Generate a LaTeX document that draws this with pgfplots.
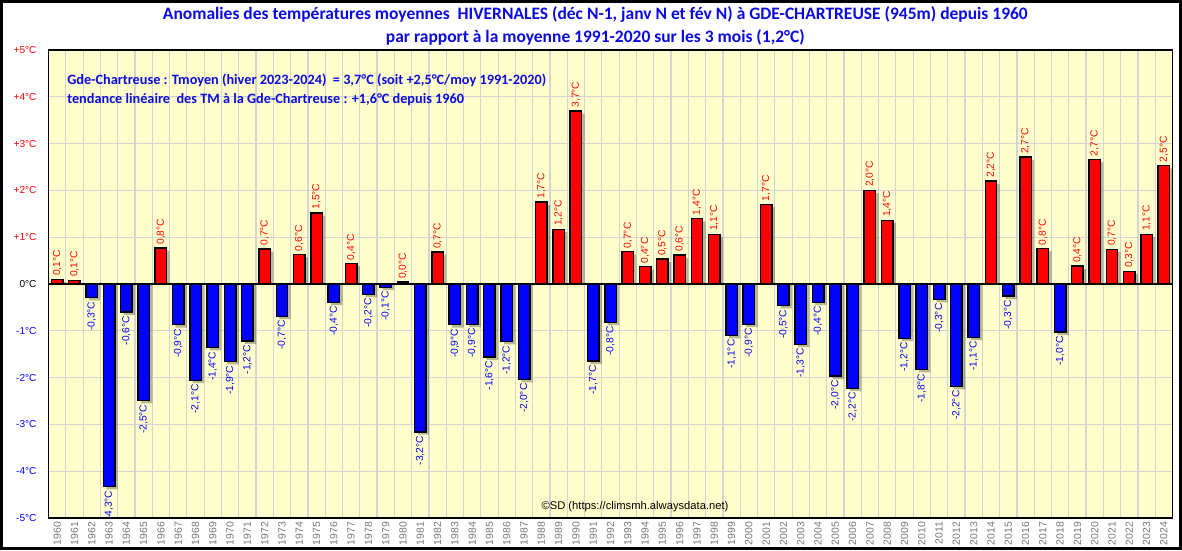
\documentclass[border=0pt]{standalone}
\usepackage{fontspec}
\setmainfont{Liberation Sans}
\newfontfamily\calib{Carlito}
\usepackage{pgfplots}
\usepackage{pgfplotstable}
\pgfplotsset{compat=1.18}
\definecolor{bgy}{RGB}{255,255,204}
\definecolor{gridc}{RGB}{212,212,212}
\definecolor{titleblue}{RGB}{10,10,225}
\definecolor{yeargray}{RGB}{120,120,120}

\pgfplotstableread{
year val lab
1960 0.10 0,1°C
1961 0.08 0,1°C
1966 0.77 0,8°C
1972 0.75 0,7°C
1974 0.63 0,6°C
1975 1.52 1,5°C
1977 0.44 0,4°C
1980 0.04 0,0°C
1982 0.68 0,7°C
1988 1.75 1,7°C
1989 1.17 1,2°C
1990 3.70 3,7°C
1993 0.69 0,7°C
1994 0.37 0,4°C
1995 0.53 0,5°C
1996 0.62 0,6°C
1997 1.40 1,4°C
1998 1.06 1,1°C
2001 1.70 1,7°C
2007 2.00 2,0°C
2008 1.36 1,4°C
2014 2.20 2,2°C
2016 2.71 2,7°C
2017 0.76 0,8°C
2019 0.38 0,4°C
2020 2.66 2,7°C
2021 0.74 0,7°C
2022 0.27 0,3°C
2023 1.06 1,1°C
2024 2.53 2,5°C
}\pos

\pgfplotstableread{
year val lab
1962 -0.29 -0,3°C
1963 -4.33 -4,3°C
1964 -0.60 -0,6°C
1965 -2.49 -2,5°C
1967 -0.87 -0,9°C
1968 -2.06 -2,1°C
1969 -1.36 -1,4°C
1970 -1.66 -1,9°C
1971 -1.22 -1,2°C
1973 -0.69 -0,7°C
1976 -0.39 -0,4°C
1978 -0.22 -0,2°C
1979 -0.07 -0,1°C
1981 -3.16 -3,2°C
1983 -0.87 -0,9°C
1984 -0.86 -0,9°C
1985 -1.56 -1,6°C
1986 -1.23 -1,2°C
1987 -2.04 -2,0°C
1991 -1.65 -1,7°C
1992 -0.82 -0,8°C
1999 -1.10 -1,1°C
2000 -0.86 -0,9°C
2002 -0.46 -0,5°C
2003 -1.29 -1,3°C
2004 -0.39 -0,4°C
2005 -1.97 -2,0°C
2006 -2.23 -2,2°C
2009 -1.16 -1,2°C
2010 -1.83 -1,8°C
2011 -0.33 -0,3°C
2012 -2.19 -2,2°C
2013 -1.14 -1,1°C
2015 -0.26 -0,3°C
2018 -1.03 -1,0°C
}\neg

\begin{document}
\begin{tikzpicture}
\useasboundingbox (0,0) rectangle (886.5pt,412.5pt);
\fill[white] (0,0) rectangle (886.5pt,412.5pt);
\begin{axis}[
  at={(36.4pt,24pt)}, anchor=south west,
  scale only axis, width=843pt, height=351pt,
  xmin=1959.5, xmax=2024.5, ymin=-5, ymax=5,
  axis background/.style={fill=bgy},
  axis line style={black, line width=1.1pt},
  xtick={1960,1961,1962,1963,1964,1965,1966,1967,1968,1969,1970,1971,1972,1973,1974,1975,1976,1977,1978,1979,1980,1981,1982,1983,1984,1985,1986,1987,1988,1989,1990,1991,1992,1993,1994,1995,1996,1997,1998,1999,2000,2001,2002,2003,2004,2005,2006,2007,2008,2009,2010,2011,2012,2013,2014,2015,2016,2017,2018,2019,2020,2021,2022,2023,2024},
  xticklabels={1960,1961,1962,1963,1964,1965,1966,1967,1968,1969,1970,1971,1972,1973,1974,1975,1976,1977,1978,1979,1980,1981,1982,1983,1984,1985,1986,1987,1988,1989,1990,1991,1992,1993,1994,1995,1996,1997,1998,1999,2000,2001,2002,2003,2004,2005,2006,2007,2008,2009,2010,2011,2012,2013,2014,2015,2016,2017,2018,2019,2020,2021,2022,2023,2024},
  minor xtick={1960.5,1961.5,1962.5,1963.5,1964.5,1965.5,1966.5,1967.5,1968.5,1969.5,1970.5,1971.5,1972.5,1973.5,1974.5,1975.5,1976.5,1977.5,1978.5,1979.5,1980.5,1981.5,1982.5,1983.5,1984.5,1985.5,1986.5,1987.5,1988.5,1989.5,1990.5,1991.5,1992.5,1993.5,1994.5,1995.5,1996.5,1997.5,1998.5,1999.5,2000.5,2001.5,2002.5,2003.5,2004.5,2005.5,2006.5,2007.5,2008.5,2009.5,2010.5,2011.5,2012.5,2013.5,2014.5,2015.5,2016.5,2017.5,2018.5,2019.5,2020.5,2021.5,2022.5,2023.5},
  xminorgrids, ymajorgrids,
  minor grid style={gridc, line width=0.9pt},
  major grid style={gridc, line width=0.9pt},
  major tick length=0pt, minor tick length=0pt,
  xticklabel style={rotate=90, anchor=east, inner sep=0pt, outer xsep=3pt,
     text=yeargray, font=\fontsize{7.8}{8}\selectfont},
  ytick={-5,...,5},
  yticklabels={{\color{blue}-5°C},{\color{blue}-4°C},{\color{blue}-3°C},{\color{blue}-2°C},{\color{blue}-1°C},0°C,{\color{red}+1°C},{\color{red}+2°C},{\color{red}+3°C},{\color{red}+4°C},{\color{red}+5°C}},
  yticklabel style={anchor=east, inner sep=0pt, outer xsep=9pt, font=\fontsize{7.6}{9}\selectfont},
  clip=false,
]
% shadows
\addplot[ybar, bar width=8.6pt, bar shift=2.2pt, fill=black, fill opacity=0.28, draw=none]
  table[x=year, y expr=\thisrow{val}-0.06] {\pos};
\addplot[ybar, bar width=8.6pt, bar shift=2.2pt, fill=black, fill opacity=0.28, draw=none]
  table[x=year, y expr=\thisrow{val}-0.06] {\neg};
% bars
\addplot[ybar, bar width=8.6pt, bar shift=0pt, fill=red, draw=black, line width=1.1pt,
  nodes near coords, point meta=explicit symbolic,
  every node near coord/.append style={rotate=90, anchor=west, text=red, inner sep=2pt,
     font=\fontsize{7.7}{8}\selectfont}]
  table[x=year, y=val, meta=lab] {\pos};
\addplot[ybar, bar width=8.6pt, bar shift=0pt, fill=blue, draw=black, line width=1.1pt,
  nodes near coords, point meta=explicit symbolic,
  every node near coord/.append style={rotate=90, anchor=east, text=blue, inner sep=2.5pt,
     font=\fontsize{7.7}{8}\selectfont}]
  table[x=year, y=val, meta=lab] {\neg};
\draw[black, line width=2.2pt] (axis cs:1959.5,0) -- (axis cs:2024.5,0);
\end{axis}
\node[font=\calib\bfseries\fontsize{13.1}{14}\selectfont, text=titleblue] at (446.5pt,402pt)
  {Anomalies des températures moyennes \ HIVERNALES (déc N-1, janv N et fév N) à GDE-CHARTREUSE (945m) depuis 1960};
\node[font=\calib\bfseries\fontsize{13.1}{14}\selectfont, text=titleblue] at (446.5pt,384.5pt)
  {par rapport à la moyenne 1991-2020 sur les 3 mois (1,2°C)};
\node[font=\calib\bfseries\fontsize{10.7}{12}\selectfont, text=titleblue, anchor=west, inner sep=0pt] at (50.25pt,352.5pt)
  {Gde-Chartreuse : Tmoyen (hiver 2023-2024) \ = 3,7°C (soit +2,5°C/moy 1991-2020)};
\node[font=\calib\bfseries\fontsize{10.7}{12}\selectfont, text=titleblue, anchor=west, inner sep=0pt] at (50.25pt,337.5pt)
  {tendance linéaire \ des TM à la Gde-Chartreuse : +1,6°C depuis 1960};
\node[font=\fontsize{8.4}{9}\selectfont, inner sep=0pt] at (476.25pt,32.25pt)
  {©SD (https://climsmh.alwaysdata.net)};
\draw[black, line width=2.2pt] (1.1pt,1.1pt) rectangle (885.4pt,411.4pt);
\end{tikzpicture}
\end{document}
